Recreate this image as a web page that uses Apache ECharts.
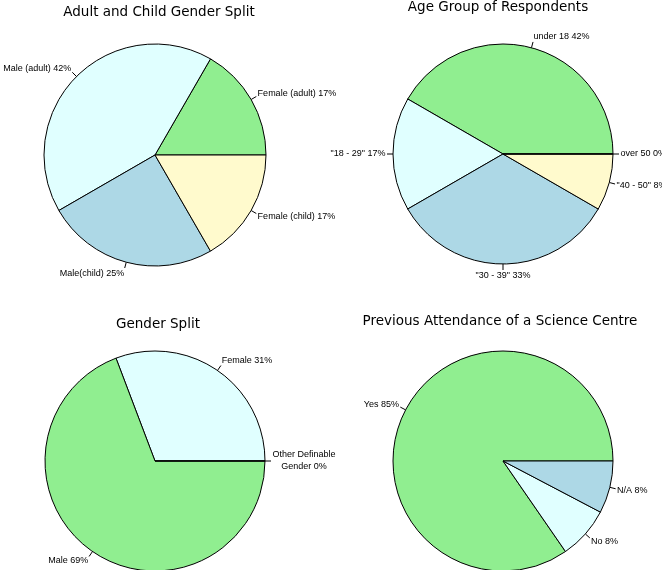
<!DOCTYPE html>
<html>
<head>
<meta charset="utf-8">
<script src="https://cdn.jsdelivr.net/npm/echarts@6/dist/echarts.min.js"></script>
<style>
html,body{margin:0;padding:0;background:#fff;}
#chart{width:662px;height:570px;}
</style>
</head>
<body>
<div id="chart"></div>
<script>
// ---- data ----
const adultChildCats = ['Female (adult)', 'Male (adult)', 'Male(child)', 'Female (child)'];
const adultChildVals = [2, 5, 3, 2];

const ageCats = ['under 18', '"18 - 29"', '"30 - 39"', '"40 - 50"', 'over 50'];
const ageVals = [5, 2, 4, 1, 0];

const genderCats = ['Female', 'Male', 'Other Definable\nGender'];
const genderVals = [4, 9, 0];

const attendCats = ['Yes', 'No', 'N/A'];
const attendVals = [11, 1, 1];

const titles = ['Adult and Child Gender Split', 'Age Group of Respondents', 'Gender Split', 'Previous Attendance of a Science Centre'];

// ---- colours ----
const GREEN = '#90EE90', CYAN = '#E0FFFF', BLUE = '#ADD8E6', LEMON = '#FFFACD', LAV = '#E6E6FA';
const pal1 = [GREEN, CYAN, BLUE, LEMON];
const pal2 = [GREEN, CYAN, BLUE, LEMON, LAV];
const pal3 = [CYAN, GREEN, BLUE];
const pal4 = [GREEN, CYAN, BLUE];

function mkData(cats, vals, pal) {
  return cats.map((c, i) => ({ name: c, value: vals[i], itemStyle: { color: pal[i % pal.length] } }));
}

function rLabelLayout(params) {
  const pts = params.labelLinePoints;
  if (!pts || pts.length < 2) return {};
  const p0 = pts[0], p1 = pts[1];
  let ux = p1[0] - p0[0], uy = p1[1] - p0[1];
  const len = Math.hypot(ux, uy) || 1;
  ux /= len; uy /= len;
  const ax = p1[0] + ux * 1.5, ay = p1[1] + uy * 5.5;
  const w = params.labelRect.width;
  let x = ax;
  if (ux > 0.02) x = ax + w / 2; else if (ux < -0.02) x = ax - w / 2;
  return { x: x, y: ay, align: 'center', verticalAlign: 'middle', labelLinePoints: [p0, p1, p1] };
}

function mkPie(cats, vals, pal, center, r) {
  return {
    type: 'pie',
    center: center,
    radius: r,
    startAngle: 0,
    clockwise: false,
    avoidLabelOverlap: false,
    animation: false,
    silent: true,
    emphasis: { disabled: true },
    minShowLabelAngle: -1,
    itemStyle: { borderColor: '#000', borderWidth: 1 },
    label: {
      show: true,
      position: 'outside',
      color: '#000',
      fontFamily: 'Liberation Sans',
      fontSize: 9,
      lineHeight: 12,
      distanceToLabelLine: 0,
      formatter: p => p.name + ' ' + Math.round(p.percent) + '%'
    },
    labelLine: { show: true, length: 6, length2: 0, smooth: false, lineStyle: { color: '#000', width: 1 } },
    labelLayout: rLabelLayout,
    data: mkData(cats, vals, pal)
  };
}

const titleStyle = { color: '#000', fontFamily: 'DejaVu Sans', fontSize: 13.5, fontWeight: 'normal', lineHeight: 16 };
function mkTitle(text, cx, cy) {
  return { text: text, left: cx, top: cy - 8, textAlign: 'center', padding: 0, textStyle: titleStyle };
}

const chart = echarts.init(document.getElementById('chart'), null, { renderer: 'canvas' });
chart.setOption({
  backgroundColor: '#fff',
  animation: false,
  title: [
    mkTitle(titles[0], 159, 12),
    mkTitle(titles[1], 498, 7),
    mkTitle(titles[2], 158, 324),
    mkTitle(titles[3], 500, 321)
  ],
  series: [
    mkPie(adultChildCats, adultChildVals, pal1, [155, 155], 111),
    mkPie(ageCats, ageVals, pal2, [503, 154], 110),
    mkPie(genderCats, genderVals, pal3, [155, 461], 110),
    mkPie(attendCats, attendVals, pal4, [503, 461], 110)
  ]
});
</script>
</body>
</html>
